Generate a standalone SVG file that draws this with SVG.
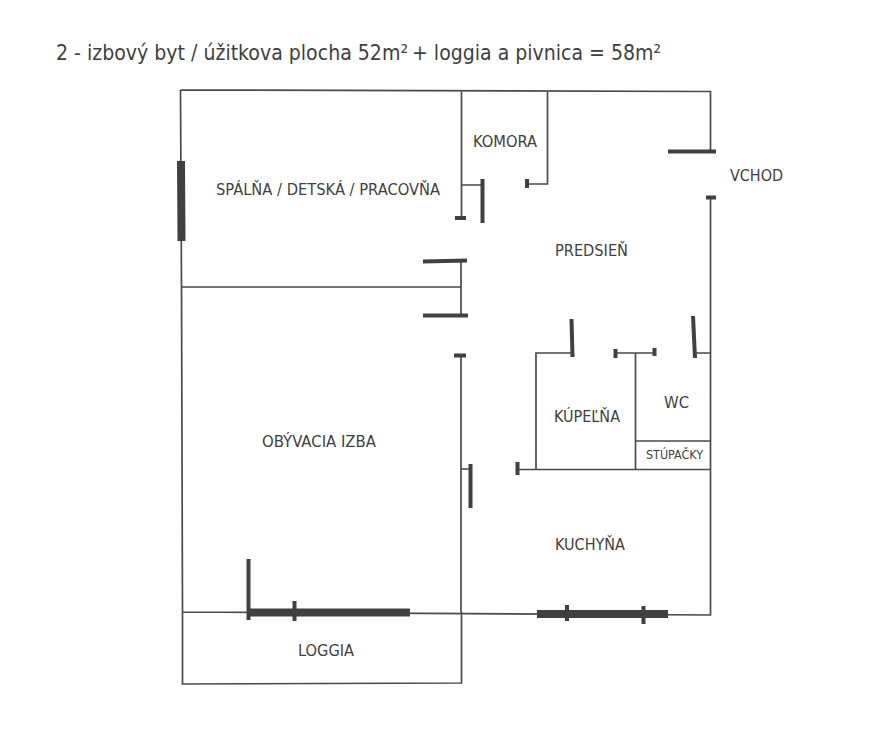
<svg xmlns="http://www.w3.org/2000/svg" width="894" height="745" viewBox="0 0 894 745">
<style>
text{font-family:"DejaVu Sans Condensed","DejaVu Sans",sans-serif;fill:#3f3f3f;font-size:15.500px}
.w{stroke:#4a4a4a;stroke-width:1.700;fill:none}
.d{stroke:#404040;stroke-width:4;fill:none}
.t{stroke:#404040;stroke-width:8;fill:none}
</style>
<rect width="894" height="745" fill="#fff"/>
<text x="56" y="60" style="font-size:22px" textLength="352" lengthAdjust="spacingAndGlyphs">2 - izbový byt / úžitkova plocha 52m²</text>
<text x="412" y="60" style="font-size:22px" textLength="249" lengthAdjust="spacingAndGlyphs">+ loggia a pivnica = 58m²</text>
<g id="connectors">
<path class="w" d="M180.500 90L710.500 91.500V151M180.500 90L181.500 287L182.500 612V684L461.500 683V612M182 287H461.500M461.500 90V218M461.500 185H482M547.500 91V184H527M461 260V316M461 355V612M182 612L710.500 615V197M461 469H471M517 469.500H710.500M536 469V353H572M615 353H655M635.500 353V469M635.500 441H710.500M695 353H710.500"/>
<path class="d" d="M482.500 179V223M527 179V188M668 151.500H716M706 197.500H716M455 218H466M423 261.500L467 260.500M423 315.500H468M454 355.500H466M470.500 464V508M517.500 462V475M571.500 319L572.500 357M615.500 349V358M654.500 348V356M693 316L695 358M248.500 559V620M294.500 601V621M567 605V621M643.500 606V624"/>
<path class="t" d="M181 161L181.500 241M248 612.500H410M537 614H668"/>
</g>
<g id="spalna"><text x="216" y="195" textLength="224" lengthAdjust="spacingAndGlyphs">SPÁLŇA / DETSKÁ / PRACOVŇA</text></g>
<g id="komora"><text x="473" y="147" textLength="64" lengthAdjust="spacingAndGlyphs">KOMORA</text></g>
<g id="vchod"><text x="730" y="181" textLength="53" lengthAdjust="spacingAndGlyphs">VCHOD</text></g>
<g id="predsien"><text x="555" y="256" textLength="73" lengthAdjust="spacingAndGlyphs">PREDSIEŇ</text></g>
<g id="obyvacia"><text x="262" y="447" textLength="114" lengthAdjust="spacingAndGlyphs">OBÝVACIA IZBA</text></g>
<g id="kupelna"><text x="554" y="422" textLength="66" lengthAdjust="spacingAndGlyphs">KÚPEĽŇA</text></g>
<g id="wc"><text x="664" y="408" textLength="25" lengthAdjust="spacingAndGlyphs">WC</text></g>
<g id="stupacky"><text x="646" y="459" style="font-size:12px" textLength="57" lengthAdjust="spacingAndGlyphs">STÚPAČKY</text></g>
<g id="kuchyna"><text x="555" y="550" textLength="70" lengthAdjust="spacingAndGlyphs">KUCHYŇA</text></g>
<g id="loggia"><text x="298" y="656" textLength="56" lengthAdjust="spacingAndGlyphs">LOGGIA</text></g>
</svg>
